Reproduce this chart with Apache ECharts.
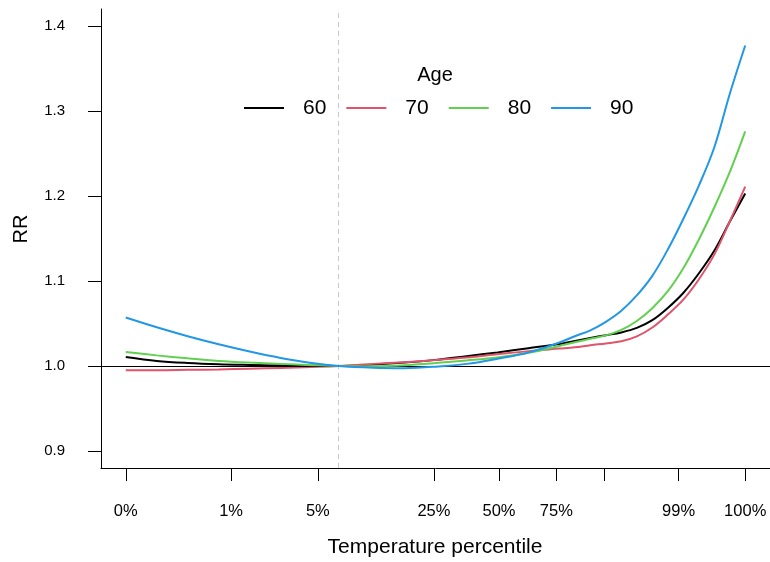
<!DOCTYPE html>
<html>
<head>
<meta charset="utf-8">
<script src="https://cdn.jsdelivr.net/npm/echarts@6/dist/echarts.min.js"></script>
<style>
html, body { margin:0; padding:0; background:#fff; }
#chart { width:770px; height:562px; }
</style>
</head>
<body>
<div id="chart"></div>
<script type="text/javascript">
// temperature grid (arbitrary degrees, percentile ticks placed on it)
var temps = [-10,-8,-6,-4,-2,0,2,3.75,6,8,10,12,14,16,18,19,20,21,22,23,24,25,26,27,28,29,30];
var rr60 = [1.0107,1.006,1.0035,1.002,1.0012,1.0006,1.0002,1.0,1.0017,1.004,1.0072,1.0115,1.016,1.021,1.026,1.0295,1.033,1.0362,1.0395,1.0448,1.0539,1.0683,1.0859,1.1088,1.1355,1.1697,1.203];
var rr70 = [0.995,0.995,0.9955,0.996,0.9968,0.9977,0.9988,1.0,1.0025,1.0045,1.007,1.010,1.0138,1.0175,1.0205,1.022,1.0245,1.0265,1.0290,1.0348,1.0453,1.0605,1.078,1.1018,1.131,1.170,1.211];
var rr80 = [1.0166,1.0125,1.009,1.006,1.004,1.0025,1.001,1.0,0.9998,1.001,1.0035,1.0065,1.010,1.0155,1.0236,1.028,1.032,1.036,1.0425,1.053,1.068,1.088,1.1150,1.1486,1.1865,1.228,1.276];
var rr90 = [1.057,1.0455,1.035,1.0255,1.017,1.0095,1.0035,1.0,0.998,0.9975,0.9992,1.0025,1.0085,1.0158,1.0276,1.035,1.042,1.052,1.065,1.083,1.106,1.137,1.173,1.212,1.257,1.32,1.377];

var ages = ['60','70','80','90'];
var colors = ['#000000','#DF536B','#61D04F','#2297E6'];

var tickTemps = [-10,-3.2,2.4,9.9,14.1,17.8,20.9,25.7,30];
var tickLabels = ['0%','1%','5%','25%','50%','75%','','99%','100%'];
var yTicks = [0.9,1.0,1.1,1.2,1.3,1.4];
var refTemp = 3.75;

var font = 'Liberation Sans, Arial, Helvetica, sans-serif';
var myChart = echarts.init(document.getElementById('chart'));

function pairs(ys){
    var out = [];
    for(var i = 0;i<temps.length;i++){
        out.push([temps[i], ys[i]]);
    }
    return out;
}

var allRR = [rr60, rr70, rr80, rr90];
var seriesData = [];
for(var i = 0;i<ages.length;i++){
    var s = {
        name:ages[i],
        type:'line',
        data:pairs(allRR[i]),
        smooth:0.35,
        symbol:'none',
        lineStyle:{ width:2, color:colors[i] },
        itemStyle:{ color:colors[i] },
        z:3 + i
    };
    if(i == 0){
        // RR = 1 reference and the dashed centring temperature
        s.markLine = {
            silent:true,
            symbol:['none','none'],
            label:{ show:false },
            animation:false,
            data:[
                { yAxis:1.0, lineStyle:{ color:'#000', width:1, type:'solid' } },
                { xAxis:refTemp, lineStyle:{ color:'#c8c8c8', width:1, type:[5,4] } }
            ]
        };
    }
    seriesData.push(s);
}

var option = {
    animation:false,
    grid:{ left:101, right:0, top:9, bottom:94, outerBoundsMode:'none' },
    legend:{
        left:244, top:96, padding:0,
        icon:'rect', itemWidth:40, itemHeight:2, itemGap:20,
        selectedMode:false,
        textStyle:{ fontSize:21, fontFamily:font, color:'#000', padding:[0,0,0,14], lineHeight:24 },
        data:ages
    },
    graphic:[
        { type:'text', style:{ text:'Age', x:435, y:75, fontSize:20, fontFamily:font, fill:'#000', align:'center', verticalAlign:'middle' } },
        { type:'text', style:{ text:'Temperature percentile', x:435, y:547, fontSize:21, fontFamily:font, fill:'#000', align:'center', verticalAlign:'middle' } },
        { type:'text', x:21, y:229, rotation:Math.PI/2, style:{ text:'RR', x:0, y:0, fontSize:20, fontFamily:font, fill:'#000', align:'center', verticalAlign:'middle' } }
    ],
    xAxis:{
        type:'value',
        min:-11.6, max:31.6,
        splitLine:{ show:false },
        axisLine:{ show:true, onZero:false, lineStyle:{ color:'#000', width:1 } },
        axisTick:{ show:true, length:13, customValues:tickTemps, lineStyle:{ color:'#000' } },
        axisLabel:{
            customValues:tickTemps,
            margin:35,
            fontSize:16.5, fontFamily:font, color:'#000',
            formatter:function(v){
                for(var k = 0;k<tickTemps.length;k++){
                    if(Math.abs(tickTemps[k]-v) < 1e-6) return tickLabels[k];
                }
                return '';
            }
        }
    },
    yAxis:{
        type:'value',
        min:0.88, max:1.42,
        splitLine:{ show:false },
        axisLine:{ show:true, onZero:false, lineStyle:{ color:'#000', width:1 } },
        axisTick:{ show:true, length:13, customValues:yTicks, lineStyle:{ color:'#000' } },
        axisLabel:{
            customValues:yTicks,
            margin:36,
            fontSize:15, fontFamily:font, color:'#000',
            formatter:function(v){ return v.toFixed(1); }
        }
    },
    series:seriesData
};
myChart.setOption(option);
</script>
</body>
</html>
